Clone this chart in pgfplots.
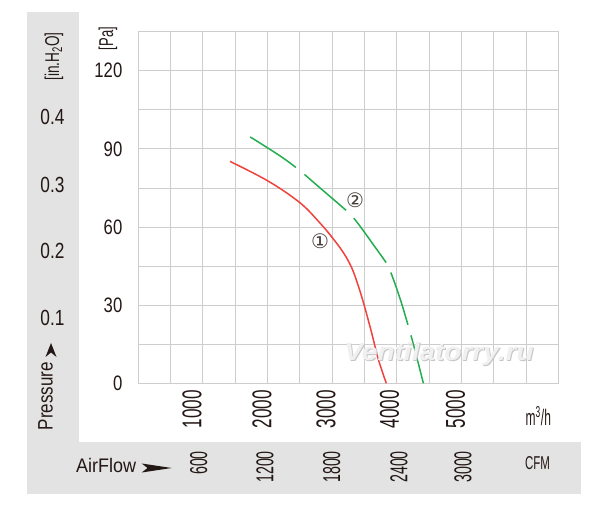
\documentclass[border=0pt]{standalone}
\usepackage{pgfplots}
\pgfplotsset{compat=1.18}
\usepackage{graphicx}
\usepackage{fontspec}
\setmainfont{Liberation Sans}
\newfontfamily\dejavu{DejaVu Sans}
\definecolor{panel}{HTML}{E3E3E3}
\definecolor{gridc}{HTML}{CDCDCD}
\definecolor{txt}{HTML}{231815}
\definecolor{redc}{HTML}{F0413C}
\definecolor{greenc}{HTML}{22AD4E}
\newcommand{\lab}[3]{\scalebox{#1}[#2]{\fontsize{10}{12}\selectfont #3}}
\begin{document}
\begin{tikzpicture}[x=1pt,y=1pt]
\useasboundingbox (0,0) rectangle (600,511);
\fill[panel] (27,16.7) rectangle (79,498.7);
\fill[panel] (27,16.7) rectangle (580.7,69.3);
\begin{axis}[at={(138.3pt,127.7pt)}, anchor=south west, scale only axis,
  width=420pt, height=351.6pt,
  xmin=0, xmax=6500, ymin=0, ymax=135,
  xtick={0,500,...,6500}, ytick={0,15,...,135},
  xticklabels={}, yticklabels={},
  major tick length=0pt,
  grid=major, major grid style={draw=gridc, line width=0.9pt},
  axis line style={draw=gridc, line width=0.9pt}]
\addplot[redc, line width=1.5pt, smooth, tension=0.6] coordinates {
(1419,85.2) (2012,77.6) (2503,69.3) (2813,61.5) (3000,56.0) (3173,50.2)
(3302,44.4) (3405,37.4) (3500,29.6) (3612,19.3) (3715,9.2) (3838,0)};
\addplot[greenc, line width=1.5pt, smooth, tension=0.55, dash pattern=on 55pt off 11pt] coordinates {
(1731,94.6) (2200,87.2) (2503,81.6) (2813,75.0) (3100,68.9) (3276,65.0)
(3405,61.2) (3650,52.8) (3854,45.6) (3922,41.7) (4050,32.6) (4155,24.0)
(4257,15.0) (4412,0)};
\end{axis}
% watermark
\node[text=gray!45, inner sep=0] at (440,156) {\lab{2.8}{2.5}{\bfseries\itshape Ventilatorry.ru}};
\node[text=gray!12, inner sep=0] at (439,157) {\lab{2.8}{2.5}{\bfseries\itshape Ventilatorry.ru}};
% Pa labels
\begin{scope}[every node/.style={text=txt, inner sep=0}]
\node[anchor=east] at (122.5,440.3) {\lab{1.67}{2.09}{120}};
\node[anchor=east] at (122.5,362.1) {\lab{1.67}{2.09}{90}};
\node[anchor=east] at (122.5,284.0) {\lab{1.67}{2.09}{60}};
\node[anchor=east] at (122.5,205.8) {\lab{1.67}{2.09}{30}};
\node[anchor=east] at (122.5,127.7) {\lab{1.67}{2.09}{0}};
\node[rotate=90] at (108,472.5) {\lab{1.3}{2.0}{[Pa]}};
% in.H2O labels
\node at (52.5,394) {\lab{1.73}{2.19}{0.4}};
\node at (52.5,326.5) {\lab{1.73}{2.19}{0.3}};
\node at (52.5,260) {\lab{1.73}{2.19}{0.2}};
\node at (52.5,193.5) {\lab{1.73}{2.19}{0.1}};
\node[rotate=90] at (54,454.5) {\lab{1.36}{2.0}{[in.H\textsubscript{2}O]}};
\node[rotate=90] at (45.5,115) {\lab{1.7}{2.09}{Pressure}};
% m3/h labels
\node[rotate=90, anchor=east] at (192,121) {\lab{1.71}{2.72}{1000}};
\node[rotate=90, anchor=east] at (262,121) {\lab{1.71}{2.72}{2000}};
\node[rotate=90, anchor=east] at (326,121) {\lab{1.71}{2.72}{3000}};
\node[rotate=90, anchor=east] at (389.5,121) {\lab{1.71}{2.72}{4000}};
\node[rotate=90, anchor=east] at (455.5,121) {\lab{1.71}{2.72}{5000}};
\node at (538.3,95) {\lab{1.2}{2.25}{m\textsuperscript{3}/h}};
% CFM labels
\node[rotate=90, anchor=east] at (198.7,60) {\lab{1.42}{2.44}{600}};
\node[rotate=90, anchor=east] at (265,60) {\lab{1.42}{2.44}{1200}};
\node[rotate=90, anchor=east] at (331.7,60) {\lab{1.42}{2.44}{1800}};
\node[rotate=90, anchor=east] at (399,60) {\lab{1.42}{2.44}{2400}};
\node[rotate=90, anchor=east] at (463,60) {\lab{1.42}{2.44}{3000}};
\node at (537.5,47.7) {\lab{1.15}{1.86}{CFM}};
\node[anchor=west] at (76,45.5) {\lab{1.8}{1.96}{AirFlow}};
% circled numbers
\node[text=txt!85] at (320,270) {\fontsize{20}{20}\selectfont\dejavu ①};
\node[text=txt!85] at (355,310.5) {\fontsize{20}{20}\selectfont\dejavu ②};
\end{scope}
% arrows
\fill[txt] (171.7,43) -- (141.7,47.5) -- (147.5,43) -- (141.7,38.5) -- cycle;
\fill[txt] (51,168) -- (45.5,154) -- (51,158.5) -- (56.5,154) -- cycle;
\end{tikzpicture}
\end{document}
